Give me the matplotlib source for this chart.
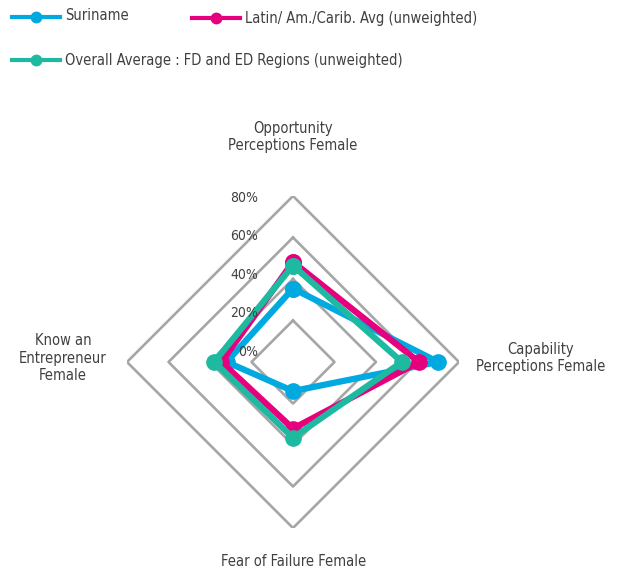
import numpy as np
import matplotlib
matplotlib.use("Agg")
import matplotlib.pyplot as plt
from matplotlib.lines import Line2D

plt.rcParams['font.family'] = ['DejaVu Sans']
plt.rcParams['font.stretch'] = 'condensed'

categories = ["Opportunity\nPerceptions Female", "Capability\nPerceptions Female",
              "Fear of Failure Female", "Know an\nEntrepreneur\nFemale"]
series_names = ["Suriname", "Latin/ Am./Carib. Avg (unweighted)",
                "Overall Average : FD and ED Regions (unweighted)"]
suriname = [35.4, 69.9, 14.0, 32.0]
latin_avg = [48.2, 60.7, 32.1, 34.5]
overall_avg = [46.5, 52.5, 36.5, 38.0]
ring_levels = [20, 40, 60, 80]
tick_levels = [0, 20, 40, 60, 80]
tick_labels = ["0%", "20%", "40%", "60%", "80%"]

colors = ["#00a9e0", "#e6007e", "#1db9a0"]
text_col = "#404040"
grid_col = "#a6a6a6"

W, H = 619, 574
fig = plt.figure(figsize=(W / 100, H / 100), dpi=100)

# polar axes centred on the diamond, 80% = 166 px
cx, cy, R = 293, 362, 166
ax = fig.add_axes([(cx - R) / W, (H - cy - R) / H, 2 * R / W, 2 * R / H],
                  projection='polar')
ax.set_theta_offset(np.pi / 2)
ax.set_theta_direction(-1)
ax.set_ylim(0, 80)
ax.axis('off')

angles = np.arange(len(categories)) * 2 * np.pi / len(categories)
closed = np.append(angles, angles[0])

for lv in ring_levels:
    ax.plot(closed, [lv] * len(closed), color=grid_col, lw=1.9, zorder=1)

for vals, col in zip([suriname, latin_avg, overall_avg], colors):
    ax.plot(closed, vals + vals[:1], color=col, lw=4.5, marker='o', ms=11,
            solid_joinstyle='round', zorder=3)

# value labels sit left of the top spoke, slightly compressed like the original
for lv, lab in zip(tick_levels, tick_labels):
    x_px = cx - 35
    y_px = cy - (10 + lv * 1.93)
    fig.text(x_px / W, 1 - y_px / H, lab, ha='right', va='center',
             fontsize=10, color=text_col, zorder=2)

# category labels
lab_pos = [(293, 137), (541, 358), (294, 562), (63, 358)]
for lab, (x, y) in zip(categories, lab_pos):
    fig.text(x / W, 1 - y / H, lab, ha='center', va='center', fontsize=10.5,
             color=text_col, linespacing=1.2)

# legend
leg_pos = [(12, 17, 16), (192, 18, 19), (12, 60, 61)]
for name, col, (x, y, ty) in zip(series_names, colors, leg_pos):
    fig.add_artist(Line2D([x / W, (x + 48) / W], [1 - y / H, 1 - y / H],
                          color=col, lw=3))
    fig.add_artist(Line2D([(x + 24) / W], [1 - y / H], color=col,
                          marker='o', ms=7.5))
    fig.text((x + 53) / W, 1 - ty / H, name, ha='left', va='center',
             fontsize=10.5, color=text_col)

fig.savefig("out.png", dpi=100)
